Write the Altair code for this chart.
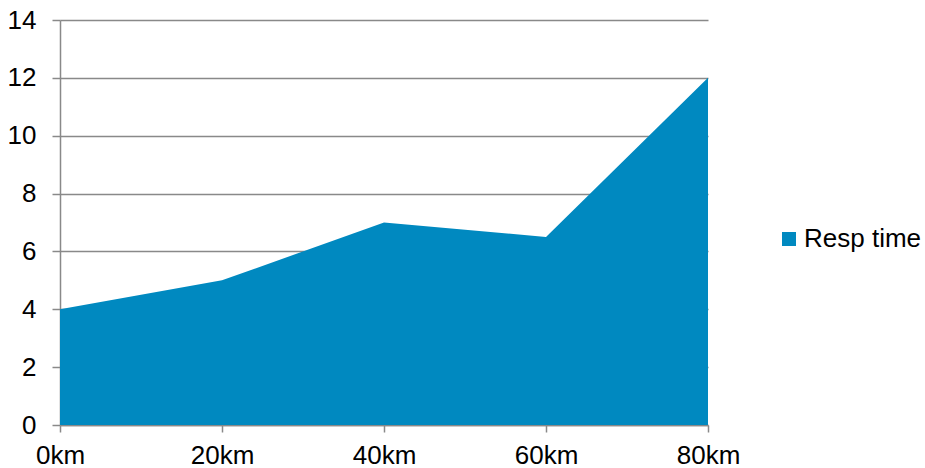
import altair as alt
import pandas as pd

# Response time by distance
distances = [0, 20, 40, 60, 80]
resp_time = [4, 5, 7, 6.5, 12]
series = ["Resp time"] * len(distances)

df = pd.DataFrame({"distance": distances, "value": resp_time, "series": series})

FONT = "Liberation Sans"
GRAY = "#898989"
BLUE = "#0089c0"

chart = alt.Chart(df).mark_area(color=BLUE, opacity=1).encode(
    x=alt.X(
        "distance:Q",
        scale=alt.Scale(domain=[0, 80], nice=False, zero=False),
        axis=alt.Axis(
            values=distances,
            labelExpr="datum.value + 'km'",
            title=None,
            grid=False,
            domainColor=GRAY,
            domainWidth=1.5,
            tickColor=GRAY,
            tickWidth=1.5,
            tickSize=7,
            labelPadding=10,
            labelFontSize=26,
            labelFont=FONT,
            labelColor="#000000",
            labelFlush=False,
            labelOverlap=False,
        ),
    ),
    y=alt.Y(
        "value:Q",
        scale=alt.Scale(domain=[0, 14], nice=False),
        axis=alt.Axis(
            values=[0, 2, 4, 6, 8, 10, 12, 14],
            title=None,
            grid=True,
            gridColor=GRAY,
            gridWidth=1.5,
            domainColor=GRAY,
            domainWidth=1.5,
            tickColor=GRAY,
            tickWidth=1.5,
            tickSize=8,
            labelPadding=16,
            labelFontSize=26,
            labelFont=FONT,
            labelColor="#000000",
            labelOverlap=False,
        ),
    ),
    color=alt.Color(
        "series:N",
        scale=alt.Scale(range=[BLUE]),
        legend=alt.Legend(
            title=None,
            orient="none",
            legendX=716,
            legendY=206,
            padding=0,
            symbolType="square",
            symbolSize=196,
            symbolOpacity=1,
            symbolStrokeWidth=0,
            labelFontSize=26,
            labelFont=FONT,
            labelColor="#000000",
            labelOffset=2,
            labelLimit=300,
        ),
    ),
).properties(
    width=648,
    height=405,
    autosize=alt.AutoSizeParams(type="none"),
    padding={"left": 60, "top": 20, "right": 217, "bottom": 43},
).configure_view(stroke=None).configure_axis(gridCap="butt")

chart.save("out.html", embed_options={"renderer": "svg", "actions": False})
